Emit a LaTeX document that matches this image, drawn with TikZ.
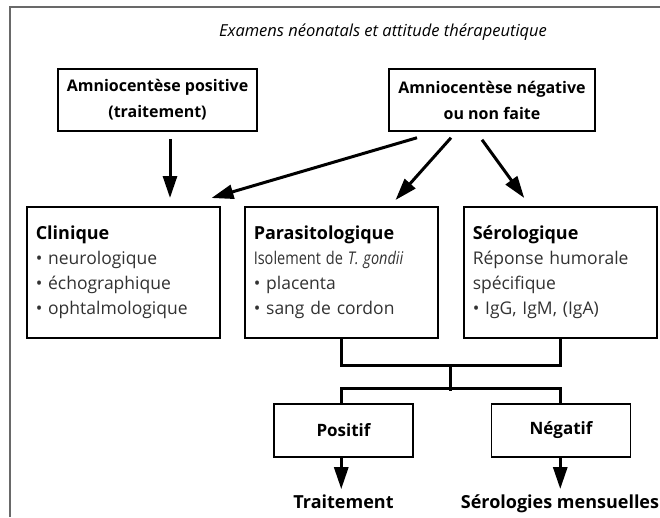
\documentclass[tikz,border=0pt]{standalone}
\usepackage{fontspec}
\setmainfont{Open Sans}
\usepackage{graphicx}
\usepackage{tikz}
\usetikzlibrary{arrows.meta,positioning,calc}
\definecolor{FrameGray}{RGB}{105,105,105}
\definecolor{TextGray} {RGB}{ 50, 50, 50}
\tikzset{
  box/.style    ={draw=black, line width=1.5pt, inner sep=0pt},
  topbox/.style ={box, minimum height=62pt,
                  align=center, font=\fontsize{16}{26}\selectfont\bfseries},
  midbox/.style ={box, minimum width=193pt, minimum height=131pt,
                  text width=175pt, align=left,
                  font=\fontsize{17.5}{25}\selectfont},
  endbox/.style ={box, minimum width=139pt, minimum height=53pt,
                  font=\fontsize{17}{20}\selectfont\bfseries},
  lbl/.style    ={inner sep=0pt, font=\fontsize{18}{20}\selectfont\bfseries},
  arr/.style    ={line width=3pt,
                  -{Triangle[length=22pt,width=14pt]}},
  bracket/.style={line width=3pt},
}
\newcommand{\bul}{\textbullet\ }
\newcommand{\boxhead}[1]{{\fontsize{18}{25}\selectfont\bfseries #1}}
\begin{document}
\begin{tikzpicture}[x=1pt, y=-1pt]
  \useasboundingbox (0,0) rectangle (660,517);
  % frame, cut on the right and at the bottom
  \draw[FrameGray, line width=1.8pt] (10,517) -- (10,7) -- (660,7);
  \node[font=\fontsize{16.5}{18}\selectfont\itshape] (title) at (383,32)
    {Examens néonatals et attitude thérapeutique};
  % amniocentese
  \node[topbox, minimum width=199pt] (amnpos) at (157.5,100)
    {Amniocentèse positive\\(traitement)};
  \node[topbox, minimum width=206pt] (amnneg) at (492,100)
    {Amniocentèse négative\\ou non faite};
  % neonatal examinations
  \node[midbox, anchor=north west] (clin) at (26,206)
    {\boxhead{Clinique}\\
     \color{TextGray}\bul neurologique\\
     \bul échographique\\
     \bul ophtalmologique};
  \node[midbox, anchor=north west] (para) at (244,206)
    {\boxhead{Parasitologique}\\
     \color{TextGray}\scalebox{0.83}[1]{Isolement de \textit{T. gondii}}\\
     \bul placenta\\
     \bul sang de cordon};
  \node[midbox, anchor=north west] (sero) at (463,206)
    {\boxhead{Sérologique}\\
     \color{TextGray}Réponse humorale\\
     spécifique\\
     \bul IgG, IgM, (IgA)};
  \node[endbox] (pos) at (343.5,430.5) {Positif};
  \node[endbox] (neg) at (561,430.5)   {Négatif};
  \node[lbl, anchor=base] (trait) at (343.5,508) {Traitement};
  \node[lbl, anchor=base] (mens)  at (560,508)   {Sérologies mensuelles};
  % arrows
  \draw[arr, shorten >=8pt] ($(amnpos.south)+(12.5,7)$) coordinate (a1)
    -- (a1 |- clin.north);
  \draw[arr] ($(amnneg.south)+(-75,6)$) -- ($(clin.north east)+(-9,-8)$);
  \draw[arr] ($(amnneg.south)+(-41,6)$) -- ($(para.north east)+(-43,-6)$);
  \draw[arr] ($(amnneg.south)+(-10,8)$) -- ($(sero.north)+(-36,-8)$);
  % results
  \draw[bracket] (para.south) -- ++(0,27) -| (sero.south);
  \draw[bracket] (pos.north -| para.south) -- ++(0,-15) -| (neg.north -| sero.south);
  \draw[bracket] ($(para.south)!0.5!(sero.south)+(0,27)$) -- ++(0,25);
  \draw[arr, shorten >=5pt] (pos.south -| para.south) -- (trait.north -| para.south);
  \draw[arr, shorten >=5pt] (neg.south -| sero.south) -- (mens.north -| sero.south);
\end{tikzpicture}
\end{document}
